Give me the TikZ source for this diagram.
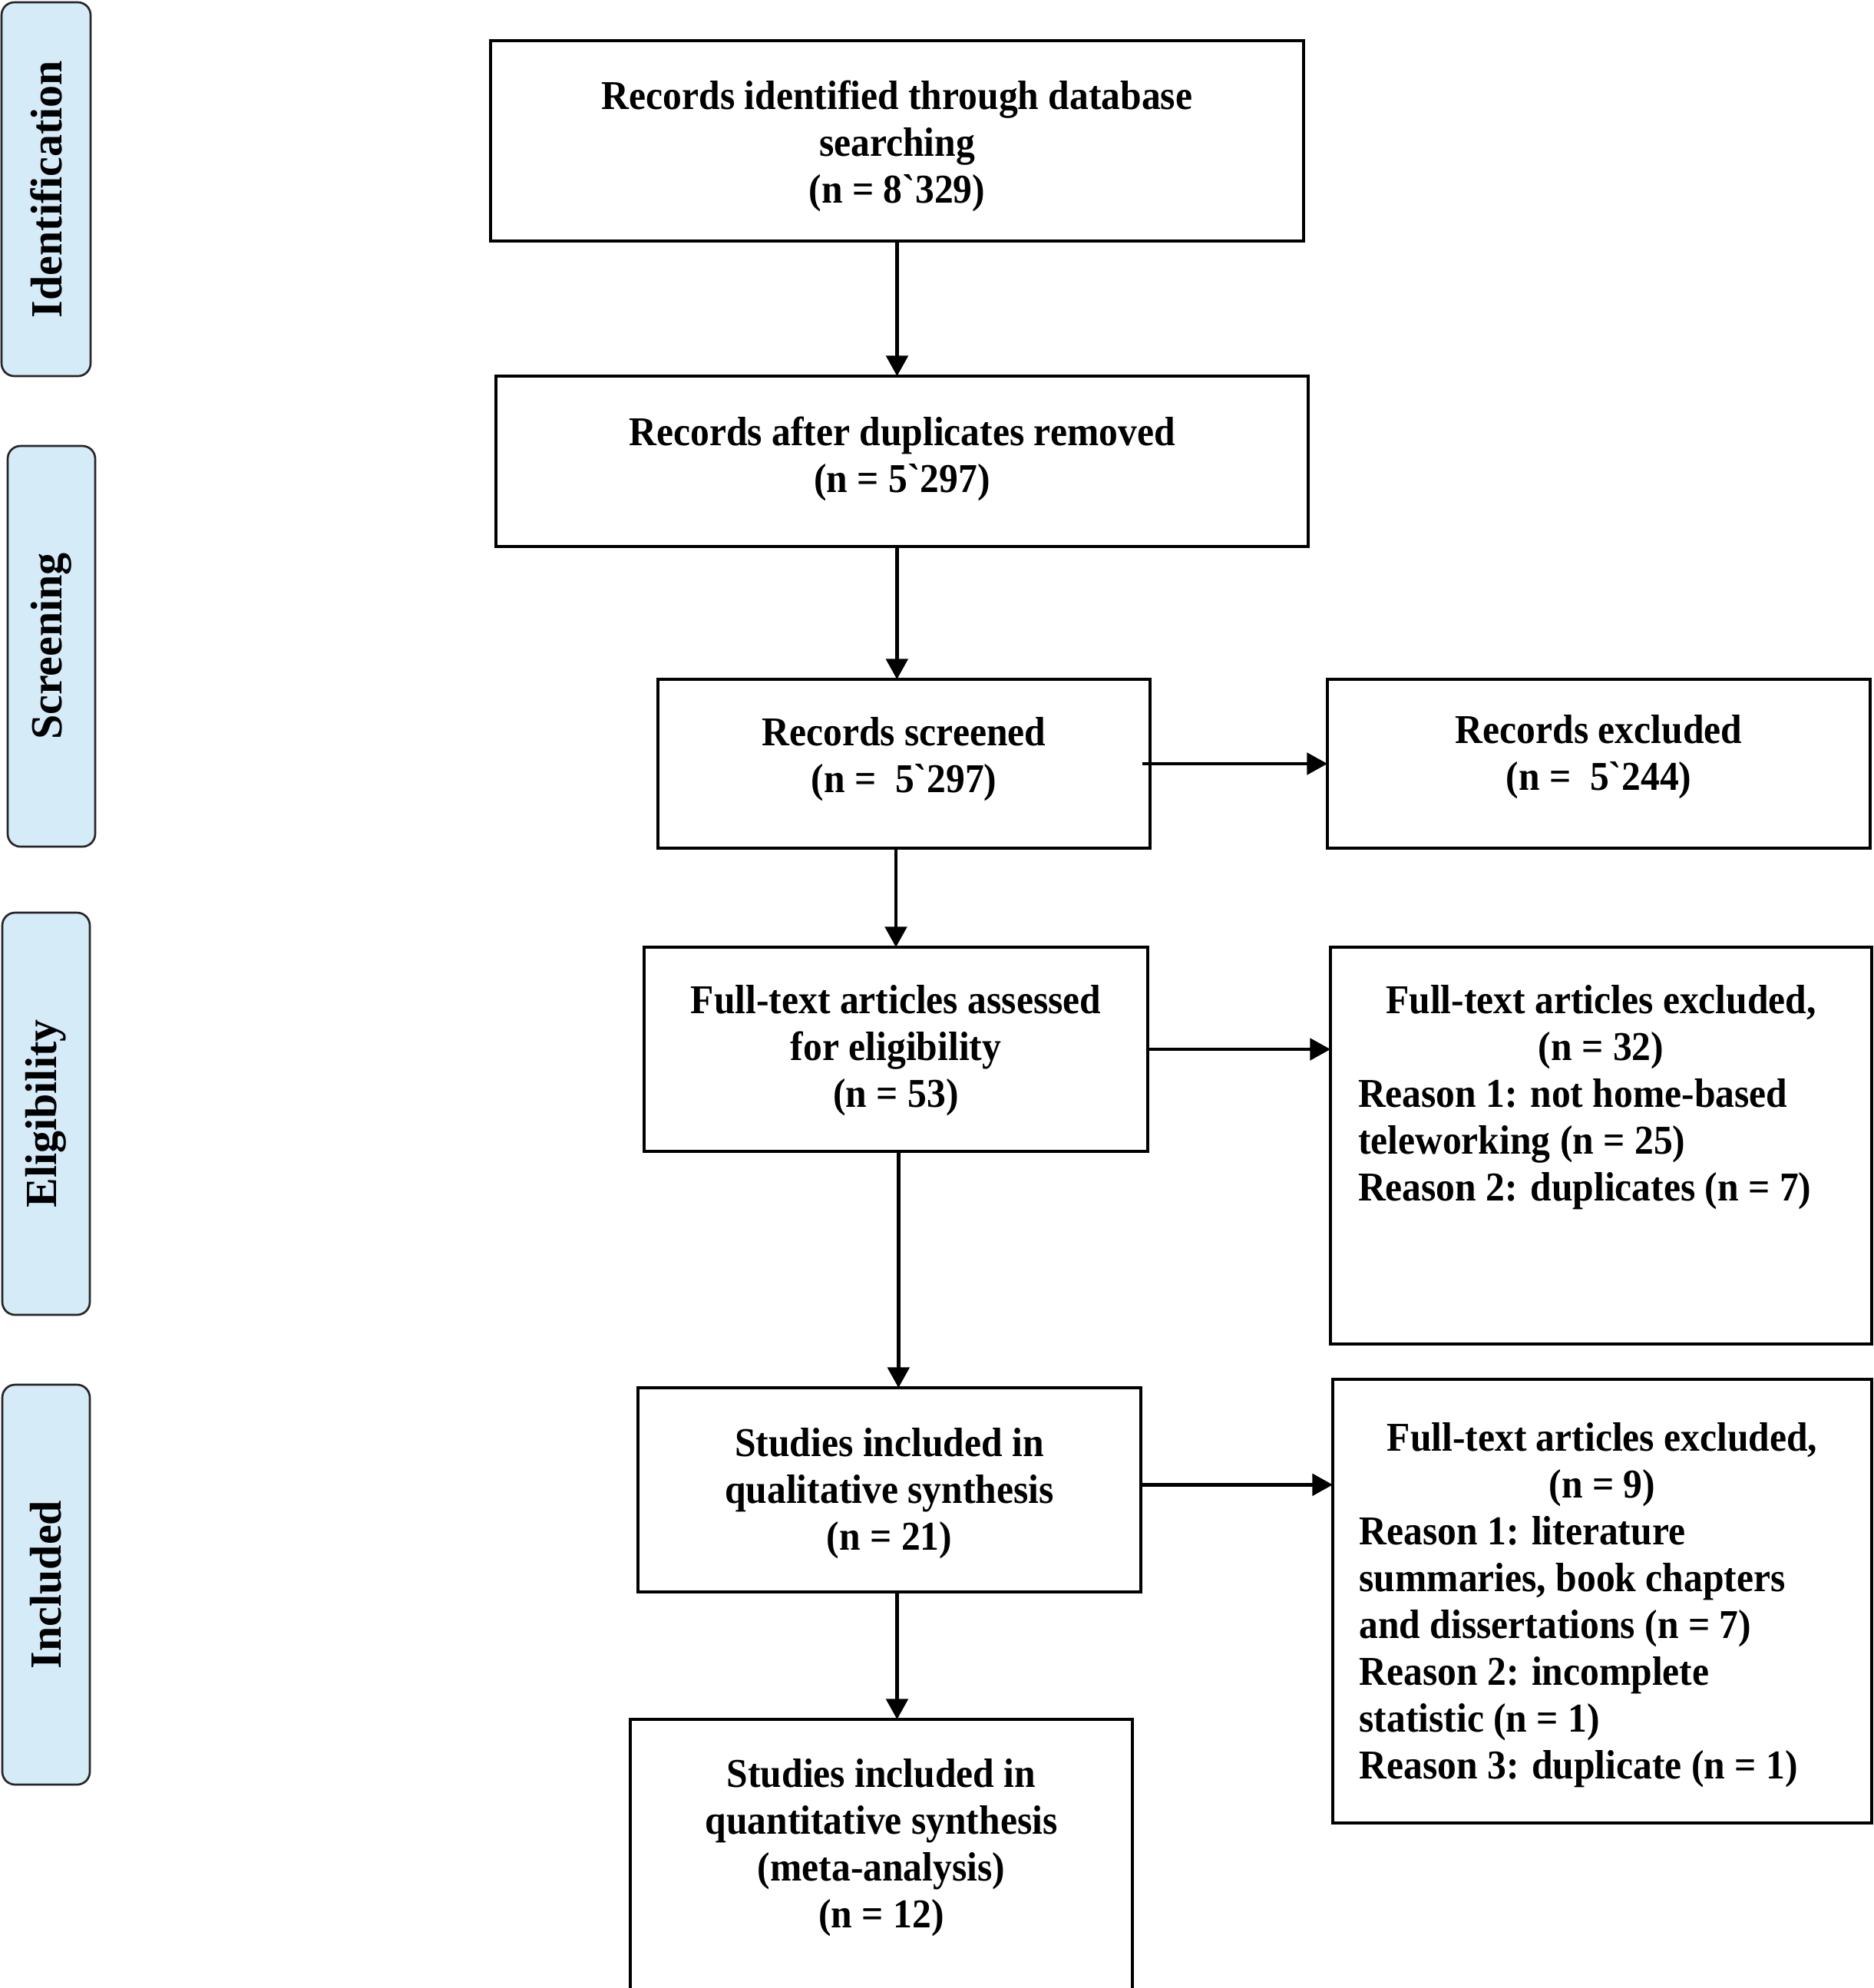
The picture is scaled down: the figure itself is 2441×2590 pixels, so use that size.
\documentclass[tikz,border=0pt]{standalone}
\usepackage{fontspec}
\setmainfont{Liberation Serif}
\newfontfamily\condserif[FakeStretch=0.93]{Liberation Serif}
\usetikzlibrary{arrows.meta}
\definecolor{sideblue}{RGB}{213,235,248}
\begin{document}
\begin{tikzpicture}[x=0.3pt,y=-0.3pt,
  every node/.style={inner sep=0pt, outer sep=0pt},
  flowbox/.style 2 args={draw, line width=1.3pt, minimum width={#1*0.3pt}, minimum height={#2*0.3pt}},
  txt/.style={font=\condserif\fontsize{16}{18.3}\selectfont\bfseries},
  sidebox/.style 2 args={draw=black!85, line width=0.8pt, fill=sideblue, rounded corners=5pt,
     rotate=90, minimum width={#2*0.3pt}, minimum height={#1*0.3pt},
     font=\fontsize{17.4}{20}\selectfont\bfseries},
  arr/.style={line width=1.3pt, -{Triangle[length=8pt,width=8.5pt]}}
]
\useasboundingbox (0,0) rectangle (2441,2590);

% side labels
\node[sidebox={116}{487}] (sid) at (60,246.5) {Identification};
\node[sidebox={114}{522}] (sscr) at (67,842) {Screening};
\node[sidebox={114}{524}] (selig) at (60,1451) {Eligibility};
\node[sidebox={114}{521}] (sinc) at (60,2064.5) {Included};

% main boxes
\node[flowbox={1059}{261}] (b1) at (1168.5,183.5) {};
\node[flowbox={1058}{222}] (b2) at (1175,601) {};
\node[flowbox={641}{220}] (b3) at (1177.5,995) {};
\node[flowbox={707}{220}] (rex) at (2082.5,995) {};
\node[flowbox={656}{266}] (ft) at (1167,1367) {};
\node[flowbox={705}{517}] (ex32) at (2085.5,1492.5) {};
\node[flowbox={655}{266}] (qual) at (1158.5,1941) {};
\node[flowbox={702}{578}] (ex9) at (2087,2086) {};
\node[flowbox={654}{370}] (quant) at (1148,2425) {};

% box texts
\node[txt, align=center] (b1t) at (1168.5,190.8) {Records identified through database\\searching\\(n = 8`329)};
\node[txt, align=center] (b2t) at (1175,598) {Records after duplicates removed\\(n = 5`297)};
\node[txt, align=center] (b3t) at (1177.5,989) {Records screened\\(n =\ \ 5`297)};
\node[txt, align=center] (rext) at (2082.5,986) {Records excluded\\(n =\ \ 5`244)};
\node[txt, align=center] (ftt) at (1167,1369) {Full-text articles assessed\\for eligibility\\(n = 53)};
\node[txt, align=center] (qualt) at (1158.5,1946) {Studies included in\\qualitative synthesis\\(n = 21)};
\node[txt, align=center] (quantt) at (1148,2407) {Studies included in\\quantitative synthesis\\(meta-analysis)\\(n = 12)};

% exclusion texts
\node[txt, anchor=north, text width=633*0.3pt, align=flush left] (ex32t) at ([yshift=-14.8pt]ex32.north)
  {\spaceskip=0pt\xspaceskip=0pt
   {\centering Full-text articles excluded,\\(n = 32)\par}\raggedright
   Reason 1: not home-based\\teleworking (n = 25)\\Reason 2: duplicates (n = 7)};
\node[txt, anchor=north, text width=633*0.3pt, align=flush left] (ex9t) at ([yshift=-16.8pt]ex9.north)
  {\spaceskip=0pt\xspaceskip=0pt
   {\centering Full-text articles excluded,\\(n = 9)\par}\raggedright
   Reason 1: literature\\summaries, book chapters\\and dissertations (n = 7)\\Reason 2: incomplete\\statistic (n = 1)\\Reason 3: duplicate (n = 1)};

% connectors
\draw[arr] (b1.south) -- (b1.south |- b2.north);
\draw[arr] ([xshift=-2pt]b2.south) -- ([xshift=-2pt]b2.south |- b3.north);
\draw[arr] (ft.north |- b3.south) -- (ft.north);
\draw[arr] ([xshift=1pt]ft.south) -- ([xshift=1pt]ft.south |- qual.north);
\draw[arr] ([xshift=3pt]qual.south) -- ([xshift=3pt]qual.south |- quant.north);
\draw[arr] ([xshift=-3pt]b3.east) -- (b3.east -| rex.west);
\draw[arr] (ft.east) -- (ft.east -| ex32.west);
\draw[arr] ([yshift=2pt]qual.east) -- ([yshift=2pt]qual.east -| ex9.west);
\end{tikzpicture}
\end{document}
